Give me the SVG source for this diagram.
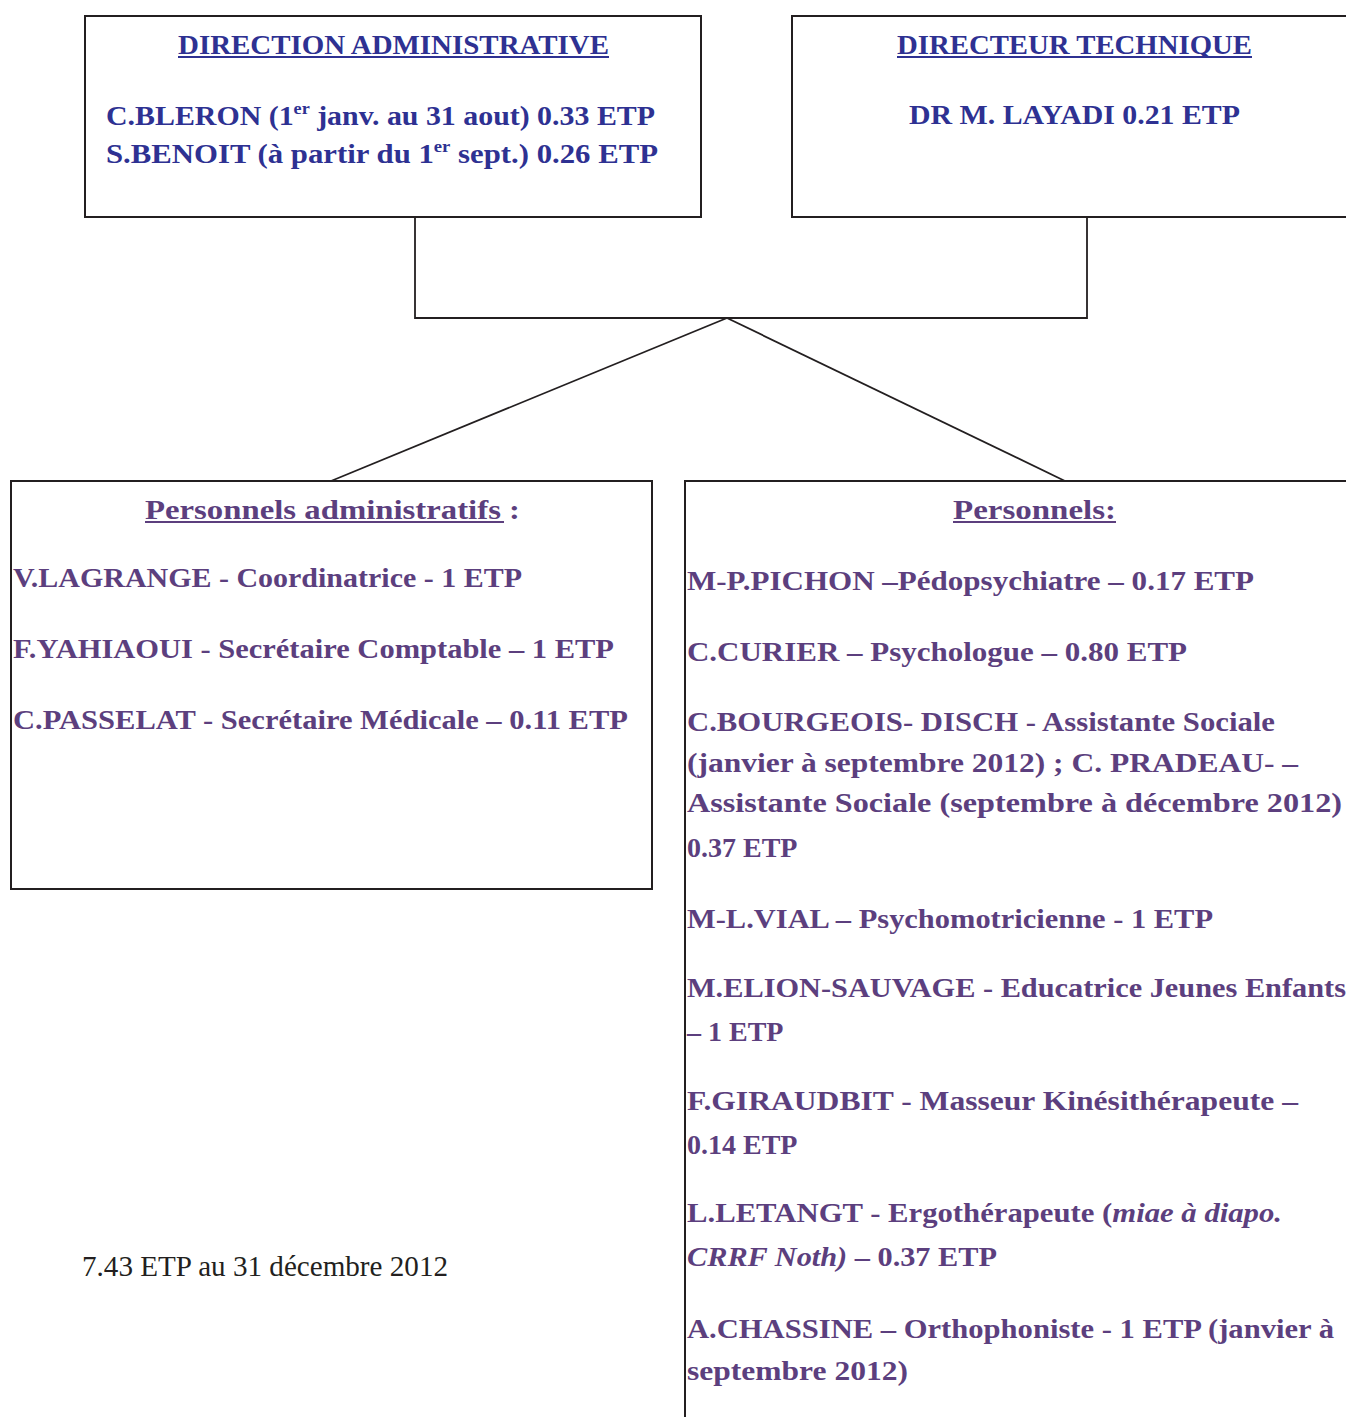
<svg xmlns="http://www.w3.org/2000/svg" width="1346" height="1417" viewBox="0 0 1346 1417">
<style>
.box{fill:#fff;stroke:#231f20;stroke-width:2}
.con{fill:none;stroke:#231f20;stroke-width:1.8}
.b{font-family:"Liberation Serif","Times New Roman",serif;font-weight:bold;font-size:28px;fill:#2e3192}
.p{font-family:"Liberation Serif","Times New Roman",serif;font-weight:bold;font-size:28px;fill:#5c3f7e}
.n{font-family:"Liberation Serif","Times New Roman",serif;font-size:29px;fill:#231f20}
.ub{stroke:#2e3192;stroke-width:2}
.up{stroke:#5c3f7e;stroke-width:2}
.sup{font-size:17px}
</style>
<rect width="1346" height="1417" fill="#fff"/>
<g id="connectors">
<polyline class="con" points="415,217 415,318 1087,318 1087,217"/>
<line class="con" x1="727" y1="318" x2="331" y2="481"/>
<line class="con" x1="727" y1="318" x2="1065" y2="481"/>
</g>
<g id="direction-administrative">
<rect class="box" x="85" y="16" width="616" height="201"/>
<text class="b" x="178" y="54" textLength="431" lengthAdjust="spacingAndGlyphs">DIRECTION ADMINISTRATIVE</text>
<line class="ub" x1="178" y1="57" x2="609" y2="57"/>
<text class="b" x="106" y="125" textLength="549" lengthAdjust="spacingAndGlyphs">C.BLERON (1<tspan class="sup" dy="-11">er</tspan><tspan dy="11"> janv. au 31 aout) 0.33 ETP</tspan></text>
<text class="b" x="106" y="163" textLength="552" lengthAdjust="spacingAndGlyphs">S.BENOIT (à partir du 1<tspan class="sup" dy="-11">er</tspan><tspan dy="11"> sept.) 0.26 ETP</tspan></text>
</g>
<g id="directeur-technique">
<rect class="box" x="792" y="16" width="560" height="201"/>
<text class="b" x="897" y="54" textLength="355" lengthAdjust="spacingAndGlyphs">DIRECTEUR TECHNIQUE</text>
<line class="ub" x1="897" y1="57" x2="1252" y2="57"/>
<text class="b" x="909" y="124" textLength="331" lengthAdjust="spacingAndGlyphs">DR M. LAYADI 0.21 ETP</text>
</g>
<g id="personnels-administratifs">
<rect class="box" x="11" y="481" width="641" height="408"/>
<text class="p" x="145" y="519" textLength="375" lengthAdjust="spacingAndGlyphs">Personnels administratifs :</text>
<line class="up" x1="145" y1="522" x2="504" y2="522"/>
<text class="p" x="13" y="587" textLength="509" lengthAdjust="spacingAndGlyphs">V.LAGRANGE - Coordinatrice -  1 ETP</text>
<text class="p" x="13" y="658" textLength="601" lengthAdjust="spacingAndGlyphs">F.YAHIAOUI - Secrétaire Comptable – 1 ETP</text>
<text class="p" x="13" y="729" textLength="615" lengthAdjust="spacingAndGlyphs">C.PASSELAT  - Secrétaire Médicale – 0.11 ETP</text>
</g>
<g id="personnels">
<rect class="box" x="685" y="481" width="668" height="945"/>
<text class="p" x="953" y="519" textLength="163" lengthAdjust="spacingAndGlyphs">Personnels:</text>
<line class="up" x1="953" y1="522" x2="1116" y2="522"/>
<text class="p" x="687" y="590" textLength="567" lengthAdjust="spacingAndGlyphs">M-P.PICHON –Pédopsychiatre – 0.17 ETP</text>
<text class="p" x="687" y="661" textLength="500" lengthAdjust="spacingAndGlyphs">C.CURIER – Psychologue – 0.80 ETP</text>
<text class="p" x="687" y="731" textLength="588" lengthAdjust="spacingAndGlyphs">C.BOURGEOIS- DISCH - Assistante Sociale</text>
<text class="p" x="687" y="772" textLength="611" lengthAdjust="spacingAndGlyphs">(janvier à septembre 2012) ;    C. PRADEAU- –</text>
<text class="p" x="687" y="812" textLength="655" lengthAdjust="spacingAndGlyphs">Assistante Sociale (septembre à décembre 2012)</text>
<text class="p" x="687" y="857">0.37 ETP</text>
<text class="p" x="687" y="928" textLength="526" lengthAdjust="spacingAndGlyphs">M-L.VIAL – Psychomotricienne - 1 ETP</text>
<text class="p" x="687" y="997" textLength="659" lengthAdjust="spacingAndGlyphs">M.ELION-SAUVAGE - Educatrice Jeunes Enfants</text>
<text class="p" x="687" y="1041">– 1 ETP</text>
<text class="p" x="687" y="1110" textLength="611" lengthAdjust="spacingAndGlyphs">F.GIRAUDBIT -  Masseur Kinésithérapeute –</text>
<text class="p" x="687" y="1154">0.14 ETP</text>
<text class="p" x="687" y="1222" textLength="595" lengthAdjust="spacingAndGlyphs">L.LETANGT - Ergothérapeute (<tspan font-style="italic">miae à diapo.</tspan></text>
<text class="p" x="687" y="1266" textLength="310" lengthAdjust="spacingAndGlyphs"><tspan font-style="italic">CRRF Noth)</tspan> – 0.37 ETP</text>
<text class="p" x="687" y="1338" textLength="647" lengthAdjust="spacingAndGlyphs">A.CHASSINE – Orthophoniste - 1 ETP (janvier à</text>
<text class="p" x="687" y="1380" textLength="221" lengthAdjust="spacingAndGlyphs">septembre 2012)</text>
</g>
<g id="total">
<text class="n" x="82" y="1276" textLength="366" lengthAdjust="spacingAndGlyphs">7.43 ETP au 31 décembre 2012</text>
</g>
</svg>
